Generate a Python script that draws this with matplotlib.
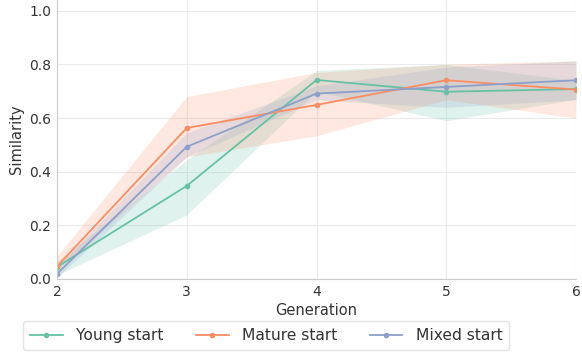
import matplotlib
matplotlib.use("Agg")
import matplotlib.pyplot as plt
import numpy as np

generations = [2, 3, 4, 5, 6]
series_names = ["Young start", "Mature start", "Mixed start"]
colors = ["#66c2a5", "#fc8d62", "#8da0cb"]

young_mean = [0.045, 0.347, 0.742, 0.698, 0.708]
young_low = [0.015, 0.239, 0.70, 0.59, 0.67]
young_high = [0.065, 0.444, 0.777, 0.80, 0.74]

mature_mean = [0.047, 0.563, 0.649, 0.741, 0.706]
mature_low = [0.035, 0.455, 0.534, 0.668, 0.60]
mature_high = [0.085, 0.68, 0.77, 0.80, 0.813]

mixed_mean = [0.019, 0.493, 0.691, 0.716, 0.741]
mixed_low = [0.005, 0.455, 0.668, 0.64, 0.668]
mixed_high = [0.045, 0.545, 0.72, 0.79, 0.813]

means = [young_mean, mature_mean, mixed_mean]
lows = [young_low, mature_low, mixed_low]
highs = [young_high, mature_high, mixed_high]

plt.rcParams['font.family'] = ['DejaVu Sans']
fig = plt.figure(figsize=(5.82, 3.55), dpi=100)
ax = fig.add_axes([57/582, 1 - 279/355, (576-57)/582, 279/355])

for name, c, m, lo, hi in zip(series_names, colors, means, lows, highs):
    ax.fill_between(generations, lo, hi, color=c, alpha=0.2, linewidth=0)
    ax.plot(generations, m, color=c, marker='o', markersize=3, linewidth=1.3, label=name)

ax.set_xlim(2, 6)
ax.set_ylim(0, 1.04)
ax.set_xticks(generations)
ax.set_yticks([0.0, 0.2, 0.4, 0.6, 0.8, 1.0])
ax.grid(True, color='#ebebeb', linewidth=0.8)
ax.set_axisbelow(True)
for s in ['top', 'right']:
    ax.spines[s].set_visible(False)
for s in ['left', 'bottom']:
    ax.spines[s].set_color('#cccccc')
ax.tick_params(length=0, labelsize=10, colors='#333333', pad=4)
ax.set_xlabel("Generation", fontsize=10.5, color='#333333', labelpad=3)
ax.set_ylabel("Similarity", fontsize=10.5, color='#333333')
leg = fig.legend(*ax.get_legend_handles_labels(), loc='upper left',
                 bbox_to_anchor=(23/582, 1 - 321/355), ncol=3, fontsize=11.2,
                 frameon=True, edgecolor='#dddddd', handlelength=2.1, handletextpad=0.85,
                 columnspacing=2.1, borderpad=0.45, borderaxespad=0, fancybox=True)
for t in leg.get_texts():
    t.set_color('#333333')
fig.savefig("out.png", dpi=100)
